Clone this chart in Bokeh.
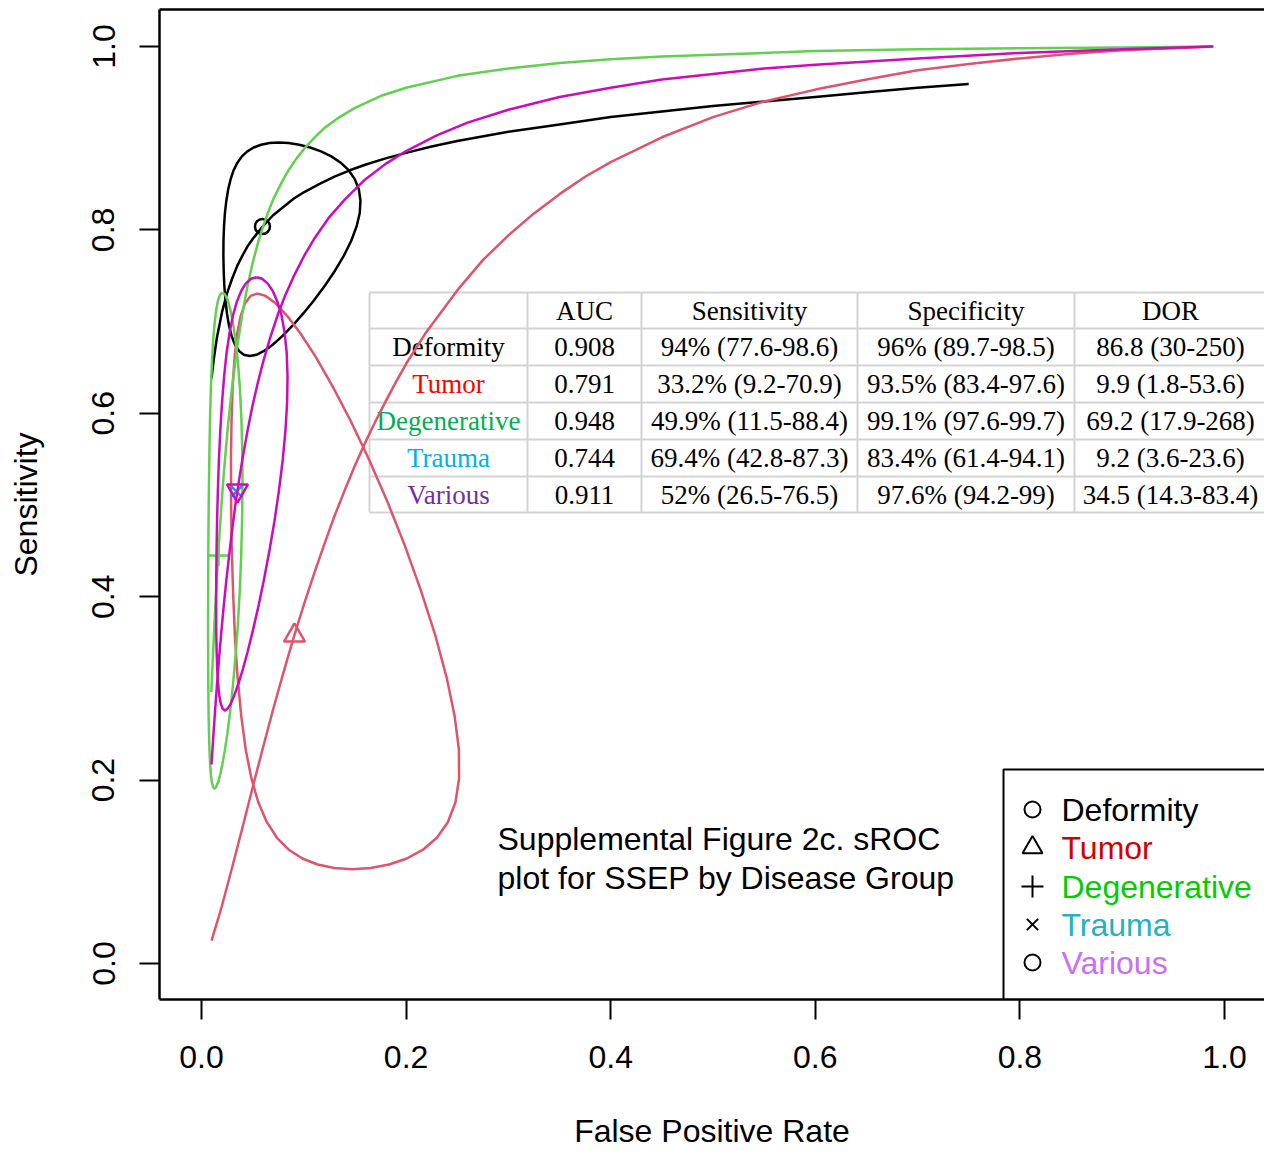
from bokeh.plotting import figure
from bokeh.models import Range1d, FixedTicker, PrintfTickFormatter, LinearAxis
from bokeh.core.properties import value
from bokeh.embed import file_html
from bokeh.resources import INLINE

# ---------------- data ----------------
groups = ["Deformity", "Tumor", "Degenerative", "Trauma", "Various"]
auc = ["0.908", "0.791", "0.948", "0.744", "0.911"]
sens_txt = ["94% (77.6-98.6)", "33.2% (9.2-70.9)", "49.9% (11.5-88.4)",
            "69.4% (42.8-87.3)", "52% (26.5-76.5)"]
spec_txt = ["96% (89.7-98.5)", "93.5% (83.4-97.6)", "99.1% (97.6-99.7)",
            "83.4% (61.4-94.1)", "97.6% (94.2-99)"]
dor_txt = ["86.8 (30-250)", "9.9 (1.8-53.6)", "69.2 (17.9-268)",
           "9.2 (3.6-23.6)", "34.5 (14.3-83.4)"]
headers = ["AUC", "Sensitivity", "Specificity", "DOR"]

x_ticks = [0.0, 0.2, 0.4, 0.6, 0.8, 1.0]
y_ticks = [0.0, 0.2, 0.4, 0.6, 0.8, 1.0]
x_title = "False Positive Rate"
y_title = "Sensitivity"

# sROC curves
deform_curve_fpr = [0.0098, 0.012, 0.015, 0.02, 0.025, 0.03, 0.035, 0.04, 0.045, 0.05, 0.06, 0.07, 0.08,
                    0.09, 0.10, 0.115, 0.13, 0.145, 0.16, 0.18, 0.20, 0.225, 0.25, 0.30, 0.35, 0.40, 0.45,
                    0.50, 0.55, 0.60, 0.65, 0.70, 0.75]
deform_curve_sens = [0.638, 0.659, 0.682, 0.710, 0.731, 0.747, 0.761, 0.772, 0.782, 0.790, 0.804, 0.816, 0.825,
                     0.834, 0.841, 0.850, 0.858, 0.865, 0.871, 0.878, 0.884, 0.891, 0.897, 0.907, 0.915, 0.923,
                     0.929, 0.935, 0.940, 0.945, 0.950, 0.955, 0.959]

tumor_curve_fpr = [0.0098, 0.015, 0.02, 0.03, 0.04, 0.05, 0.06, 0.07, 0.08, 0.09, 0.10, 0.11, 0.12, 0.13,
                   0.14, 0.15, 0.16, 0.17, 0.18, 0.19, 0.20, 0.22, 0.25, 0.275, 0.30, 0.325, 0.35, 0.375,
                   0.40, 0.45, 0.50, 0.55, 0.60, 0.65, 0.70, 0.75, 0.80, 0.85, 0.90, 0.95, 0.989]
tumor_curve_sens = [0.025, 0.044, 0.063, 0.105, 0.148, 0.192, 0.235, 0.277, 0.317, 0.355, 0.391, 0.425, 0.457,
                    0.488, 0.516, 0.543, 0.568, 0.591, 0.613, 0.634, 0.654, 0.689, 0.734, 0.767, 0.794, 0.818,
                    0.839, 0.858, 0.874, 0.901, 0.923, 0.940, 0.953, 0.964, 0.974, 0.981, 0.987, 0.992, 0.996,
                    0.998, 1.000]

degen_curve_fpr = [0.0096, 0.0105, 0.011, 0.012, 0.013, 0.014, 0.015, 0.016, 0.018, 0.020, 0.022, 0.024,
                   0.026, 0.03, 0.035, 0.04, 0.045, 0.05, 0.055, 0.06, 0.065, 0.07, 0.078, 0.085, 0.093,
                   0.10, 0.11, 0.12, 0.135, 0.15, 0.175, 0.20, 0.25, 0.30, 0.35, 0.40, 0.45, 0.50, 0.60,
                   0.70, 0.80, 0.90, 0.989]
degen_curve_sens = [0.296, 0.319, 0.331, 0.355, 0.378, 0.400, 0.420, 0.439, 0.475, 0.508, 0.537, 0.563,
                    0.588, 0.630, 0.673, 0.709, 0.739, 0.764, 0.785, 0.803, 0.819, 0.833, 0.851, 0.865, 0.878,
                    0.888, 0.900, 0.911, 0.923, 0.933, 0.946, 0.955, 0.968, 0.976, 0.982, 0.986, 0.989, 0.991,
                    0.995, 0.997, 0.998, 0.999, 1.000]

various_curve_fpr = [0.0098, 0.012, 0.0135, 0.015, 0.0165, 0.018, 0.020, 0.022, 0.0245, 0.027, 0.030, 0.033,
                     0.036, 0.04, 0.045, 0.05, 0.055, 0.06, 0.067, 0.075, 0.082, 0.09, 0.10, 0.11, 0.125,
                     0.14, 0.16, 0.18, 0.20, 0.23, 0.26, 0.30, 0.35, 0.40, 0.45, 0.50, 0.55, 0.60, 0.70,
                     0.80, 0.90, 0.989]
various_curve_sens = [0.217, 0.255, 0.279, 0.302, 0.323, 0.344, 0.369, 0.393, 0.420, 0.445, 0.473, 0.499,
                      0.522, 0.550, 0.581, 0.609, 0.633, 0.655, 0.682, 0.709, 0.729, 0.749, 0.771, 0.790, 0.814,
                      0.833, 0.855, 0.872, 0.886, 0.903, 0.917, 0.931, 0.945, 0.955, 0.964, 0.970, 0.976, 0.980,
                      0.987, 0.993, 0.997, 1.000]

# confidence regions (outline points, going round)
deform_region_fpr = [0.0753, 0.0851, 0.0955, 0.1062, 0.1168, 0.1269, 0.1361, 0.1438, 0.1498, 0.1538, 0.1554,
                     0.1547, 0.1516, 0.1464, 0.1392, 0.1305, 0.1207, 0.1102, 0.0995, 0.0890, 0.0790, 0.0696,
                     0.0611, 0.0536, 0.0471, 0.0414, 0.0367, 0.0328, 0.0295, 0.0269, 0.0249, 0.0234, 0.0223,
                     0.0217, 0.0214, 0.0215, 0.0220, 0.0229, 0.0243, 0.0261, 0.0285, 0.0314, 0.0351, 0.0395,
                     0.0448, 0.0510, 0.0582, 0.0663]
deform_region_sens = [0.8953, 0.8947, 0.8929, 0.8899, 0.8857, 0.8802, 0.8733, 0.8651, 0.8554, 0.8444, 0.8321,
                      0.8184, 0.8038, 0.7882, 0.7720, 0.7555, 0.7393, 0.7235, 0.7089, 0.6955, 0.6841, 0.6748,
                      0.6680, 0.6638, 0.6624, 0.6638, 0.6680, 0.6748, 0.6841, 0.6955, 0.7089, 0.7235, 0.7393,
                      0.7555, 0.7720, 0.7882, 0.8038, 0.8184, 0.8321, 0.8444, 0.8554, 0.8651, 0.8733, 0.8802,
                      0.8857, 0.8899, 0.8929, 0.8947]

tumor_region_fpr = [0.0547, 0.0627, 0.0724, 0.0837, 0.0968, 0.1115, 0.1276, 0.1450, 0.1630, 0.1811, 0.1985,
                    0.2145, 0.2285, 0.2396, 0.2474, 0.2516, 0.2518, 0.2482, 0.2408, 0.2301, 0.2165, 0.2007,
                    0.1834, 0.1653, 0.1473, 0.1298, 0.1135, 0.0986, 0.0853, 0.0738, 0.0639, 0.0556, 0.0488,
                    0.0432, 0.0388, 0.0353, 0.0326, 0.0308, 0.0295, 0.0289, 0.0288, 0.0294, 0.0305, 0.0324,
                    0.0349, 0.0383, 0.0426, 0.0480]
tumor_region_sens = [0.7307, 0.7280, 0.7199, 0.7063, 0.6870, 0.6618, 0.6305, 0.5935, 0.5516, 0.5053, 0.4565,
                     0.4067, 0.3580, 0.3121, 0.2703, 0.2334, 0.2018, 0.1755, 0.1541, 0.1371, 0.1241, 0.1145,
                     0.1080, 0.1041, 0.1028, 0.1041, 0.1080, 0.1145, 0.1241, 0.1371, 0.1541, 0.1755, 0.2018,
                     0.2334, 0.2703, 0.3121, 0.3580, 0.4067, 0.4565, 0.5053, 0.5516, 0.5935, 0.6305, 0.6618,
                     0.6870, 0.7063, 0.7199, 0.7280]

degen_region_fpr = [0.0205, 0.0230, 0.0256, 0.0282, 0.0308, 0.0333, 0.0356, 0.0375, 0.0389, 0.0398, 0.0401,
                    0.0397, 0.0388, 0.0374, 0.0355, 0.0332, 0.0307, 0.0281, 0.0255, 0.0229, 0.0204, 0.0182,
                    0.0161, 0.0143, 0.0127, 0.0113, 0.0102, 0.0092, 0.0084, 0.0078, 0.0073, 0.0069, 0.0066,
                    0.0065, 0.0064, 0.0065, 0.0066, 0.0069, 0.0073, 0.0078, 0.0084, 0.0092, 0.0102, 0.0114,
                    0.0128, 0.0144, 0.0162, 0.0183]
degen_region_sens = [0.7317, 0.7296, 0.7234, 0.7130, 0.6983, 0.6792, 0.6557, 0.6281, 0.5965, 0.5615, 0.5239,
                     0.4847, 0.4450, 0.4060, 0.3687, 0.3342, 0.3030, 0.2756, 0.2523, 0.2329, 0.2174, 0.2055,
                     0.1973, 0.1924, 0.1908, 0.1924, 0.1973, 0.2055, 0.2174, 0.2329, 0.2523, 0.2756, 0.3030,
                     0.3342, 0.3687, 0.4060, 0.4450, 0.4847, 0.5239, 0.5615, 0.5965, 0.6281, 0.6557, 0.6792,
                     0.6983, 0.7130, 0.7234, 0.7296]

various_region_fpr = [0.0538, 0.0592, 0.0646, 0.0697, 0.0743, 0.0783, 0.0813, 0.0833, 0.0841, 0.0837, 0.0821,
                      0.0794, 0.0757, 0.0713, 0.0663, 0.0610, 0.0556, 0.0502, 0.0451, 0.0403, 0.0359, 0.0319,
                      0.0285, 0.0254, 0.0229, 0.0207, 0.0189, 0.0174, 0.0163, 0.0154, 0.0148, 0.0144, 0.0143,
                      0.0144, 0.0147, 0.0152, 0.0160, 0.0170, 0.0184, 0.0201, 0.0221, 0.0245, 0.0274, 0.0307,
                      0.0345, 0.0388, 0.0434, 0.0485]
various_region_sens = [0.7484, 0.7467, 0.7417, 0.7334, 0.7215, 0.7064, 0.6876, 0.6656, 0.6402, 0.6121, 0.5815,
                       0.5491, 0.5157, 0.4823, 0.4495, 0.4182, 0.3893, 0.3630, 0.3400, 0.3204, 0.3045, 0.2920,
                       0.2831, 0.2778, 0.2760, 0.2778, 0.2831, 0.2920, 0.3045, 0.3204, 0.3400, 0.3630, 0.3893,
                       0.4182, 0.4495, 0.4823, 0.5157, 0.5491, 0.5815, 0.6121, 0.6402, 0.6656, 0.6876, 0.7064,
                       0.7215, 0.7334, 0.7417, 0.7467]

# summary points (Deformity, Tumor, Degenerative, Trauma, Various)
summary_fpr = [0.0596, 0.0909, 0.0166, 0.0342, 0.0352]
summary_sens = [0.8037, 0.3577, 0.4450, 0.5147, 0.5158]

title_lines = ["Supplemental Figure 2c. sROC", "plot for SSEP by Disease Group"]

# ---------------- styles ----------------
line_colors = ["black", "#DF536B", "#61D04F", "#2297E6", "#CD0BBC"]
point_markers = ["circle", "triangle", "cross", "x", "inverted_triangle"]
point_sizes = [15, 21, 21, 16, 21]
table_label_colors = ["black", "#FF0000", "#00B050", "#00B0F0", "#7030A0"]
legend_text_colors = ["black", "#D40000", "#00CD00", "#22B2C2", "#C86EF8"]
legend_markers = ["circle", "triangle", "cross", "x", "circle"]
legend_sizes = [16, 20, 22, 16, 16]
SANS = "Liberation Sans"
SERIF = "Liberation Serif"


def X(xp):  # pixel column -> data x
    return (xp - 201) / 1023


def Y(yp):  # pixel row -> data y
    return (963 - yp) / 917


W, H = 1264, 1151
p = figure(width=W, height=H, output_backend="svg", toolbar_location=None,
           x_range=Range1d(X(159), X(1264)), y_range=Range1d(Y(999), Y(9)),
           min_border_left=159, min_border_right=0, min_border_top=9, min_border_bottom=152,
           x_axis_label=x_title, y_axis_label=y_title)
p.outline_line_color = None
p.grid.visible = False
p.background_fill_color = "white"
p.border_fill_color = "white"

for ax, ticks in ((p.xaxis[0], x_ticks), (p.yaxis[0], y_ticks)):
    ax.ticker = FixedTicker(ticks=ticks)
    ax.formatter = PrintfTickFormatter(format="%.1f")
    ax.major_tick_out = 20
    ax.major_tick_in = 0
    ax.minor_tick_out = 0
    ax.minor_tick_in = 0
    ax.major_tick_line_width = 2
    ax.axis_line_width = 2.5
    ax.major_label_text_font = SANS
    ax.major_label_text_font_size = "32px"
    ax.major_label_text_color = "black"
    ax.axis_label_text_font = SANS
    ax.axis_label_text_font_size = "32px"
    ax.axis_label_text_font_style = "normal"
    ax.axis_label_text_color = "black"
    ax.axis_label_standoff = 46
p.xaxis[0].major_label_standoff = 26
p.xaxis[0].axis_label_standoff = 42
p.yaxis[0].major_label_orientation = "vertical"
p.yaxis[0].major_label_standoff = 25

top = LinearAxis(ticker=FixedTicker(ticks=[]), axis_line_width=2.5,
                 major_tick_line_color=None, minor_tick_line_color=None,
                 major_label_text_font_size="0px")
p.add_layout(top, "above")

# ---------------- table ----------------
col_edges = [369, 527, 641, 857, 1074]
row_edges = [292, 328, 365, 402, 439, 476, 512]
col_centers = [448, 584, 749, 965.5, 1170]
row_centers = [310, 346.5, 383.5, 420.5, 457.5, 494]

p.quad(left=[X(369)], right=[X(1300)], top=[Y(292)], bottom=[Y(512)],
       fill_color="white", line_color=None)
p.segment(x0=[X(369)] * len(row_edges), x1=[X(1300)] * len(row_edges),
          y0=[Y(r) for r in row_edges], y1=[Y(r) for r in row_edges],
          line_color="#D3D3D3", line_width=2)
p.segment(x0=[X(c) for c in col_edges], x1=[X(c) for c in col_edges],
          y0=[Y(292)] * len(col_edges), y1=[Y(512)] * len(col_edges),
          line_color="#D3D3D3", line_width=2)

tx, ty, tt, tc = [], [], [], []
for j, h in enumerate(headers):
    tx.append(X(col_centers[j + 1])); ty.append(Y(row_centers[0])); tt.append(h); tc.append("black")
for i, g in enumerate(groups):
    row = [g, auc[i], sens_txt[i], spec_txt[i], dor_txt[i]]
    for j, s in enumerate(row):
        tx.append(X(col_centers[j])); ty.append(Y(row_centers[i + 1])); tt.append(s)
        tc.append(table_label_colors[i] if j == 0 else "black")
p.text(x=tx, y=ty, text=tt, text_color=tc, text_font=value(SERIF),
       text_font_size="27px", text_align="center", text_baseline="middle")

# ---------------- curves, regions, points ----------------
curves = [(deform_curve_fpr, deform_curve_sens, deform_region_fpr, deform_region_sens),
          (tumor_curve_fpr, tumor_curve_sens, tumor_region_fpr, tumor_region_sens),
          (degen_curve_fpr, degen_curve_sens, degen_region_fpr, degen_region_sens),
          None,
          (various_curve_fpr, various_curve_sens, various_region_fpr, various_region_sens)]

for i in range(len(groups)):
    c = curves[i]
    if c is not None:
        cf, cs, rf, rs = c
        p.line(cf, cs, line_color=line_colors[i], line_width=2.5, line_join="round")
        p.line(rf + rf[:1], rs + rs[:1], line_color=line_colors[i], line_width=2.5, line_join="round")
    p.scatter(x=[summary_fpr[i]], y=[summary_sens[i]], marker=point_markers[i],
              size=point_sizes[i], fill_color=None, line_color=line_colors[i], line_width=2.5)

# ---------------- title text ----------------
p.text(x=[X(497)] * 2, y=[Y(838), Y(877)], text=title_lines, text_color="black",
       text_font=value(SANS), text_font_size="32px", text_align="left", text_baseline="middle")

# ---------------- legend ----------------
p.quad(left=[X(1003)], right=[X(1300)], top=[Y(769)], bottom=[Y(1010)],
       fill_color="white", line_color="black", line_width=2)
leg_rows = [809, 847, 886, 924, 962]
p.scatter(x=[X(1032)] * 5, y=[Y(r) for r in leg_rows], marker=legend_markers,
          size=legend_sizes, fill_color=None, line_color="black", line_width=2)
p.text(x=[X(1061)] * 5, y=[Y(r) for r in leg_rows], text=groups, text_color=legend_text_colors,
       text_font=value(SANS), text_font_size="32px", text_align="left", text_baseline="middle")

open("out.html", "w").write(file_html(p, INLINE))
